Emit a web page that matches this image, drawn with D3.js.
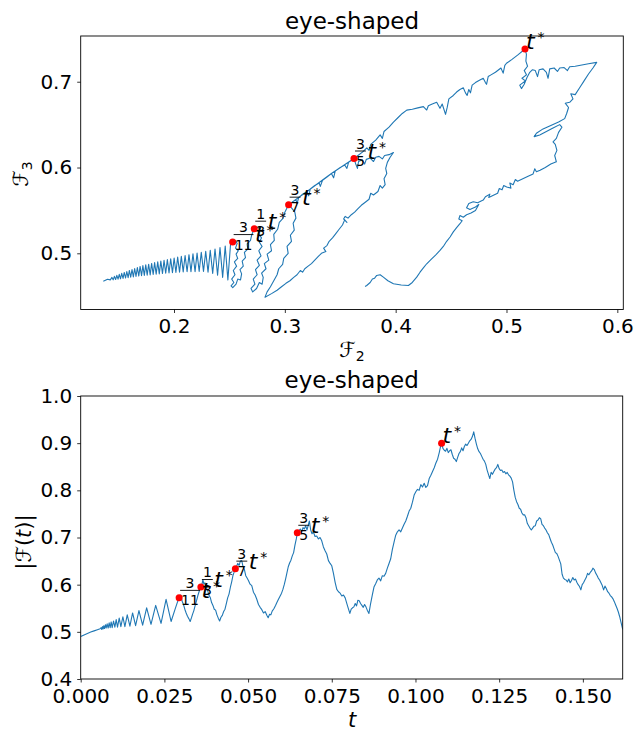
<!DOCTYPE html>
<html><head><meta charset="utf-8">
<script src="https://cdn.jsdelivr.net/npm/d3@7"></script>
<style>body{margin:0;background:#fff} text{font-family:"DejaVu Sans",sans-serif;fill:#000}</style>
</head><body><svg id="c" width="636" height="733"></svg>
<script>
// ---- data: trajectory (F2, F3) in the plane ----
const trajectory = [
[0.1362,0.4675],[0.1400,0.4697],[0.1425,0.4690],[0.1440,0.4719],[0.1451,0.4691],[0.1462,0.4731],[0.1473,0.4695],[0.1484,0.4743],[0.1495,0.4699],[0.1506,0.4755],[0.1517,0.4703],[0.1528,0.4766],[0.1540,0.4708],[0.1551,0.4777],[0.1563,0.4712],[0.1574,0.4788],[0.1586,0.4716],[0.1597,0.4800],[0.1609,0.4721],[0.1621,0.4811],[0.1633,0.4725],[0.1645,0.4823],[0.1657,0.4730],[0.1669,0.4835],[0.1682,0.4735],[0.1694,0.4847],[0.1707,0.4739],[0.1719,0.4856],[0.1732,0.4742],[0.1745,0.4865],[0.1758,0.4746],[0.1771,0.4873],[0.1785,0.4749],[0.1798,0.4882],[0.1812,0.4753],[0.1825,0.4891],[0.1839,0.4757],[0.1853,0.4900],[0.1867,0.4760],[0.1881,0.4909],[0.1896,0.4764],[0.1910,0.4918],[0.1925,0.4768],[0.1940,0.4927],[0.1955,0.4771],[0.1970,0.4936],[0.1986,0.4774],[0.2001,0.4945],[0.2017,0.4777],[0.2033,0.4955],[0.2050,0.4780],[0.2066,0.4965],[0.2083,0.4783],[0.2100,0.4975],[0.2118,0.4785],[0.2135,0.4984],[0.2153,0.4786],[0.2171,0.4993],[0.2190,0.4787],[0.2208,0.5002],[0.2227,0.4788],[0.2246,0.5012],[0.2266,0.4789],[0.2286,0.5022],[0.2307,0.4780],[0.2327,0.5035],[0.2349,0.4765],[0.2370,0.5051],[0.2393,0.4745],[0.2415,0.5068],[0.2439,0.4720],[0.2462,0.5086],[0.2486,0.4690],[0.2510,0.5104],[0.2529,0.5131],
[0.2550,0.5150],[0.2570,0.5115],[0.2555,0.5060],[0.2580,0.5030],[0.2560,0.4990],[0.2575,0.4940],[0.2545,0.4900],[0.2565,0.4850],[0.2535,0.4800],[0.2550,0.4750],[0.2520,0.4700],[0.2540,0.4660],[0.2515,0.4620],[0.2530,0.4600],[0.2560,0.4640],[0.2575,0.4700],[0.2600,0.4690],[0.2610,0.4760],[0.2595,0.4810],[0.2625,0.4850],[0.2615,0.4910],[0.2645,0.4950],[0.2635,0.5010],[0.2665,0.5050],[0.2660,0.5110],[0.2690,0.5150],[0.2700,0.5210],[0.2724,0.5287],
[0.2750,0.5305],[0.2775,0.5290],[0.2760,0.5230],[0.2790,0.5180],[0.2770,0.5130],[0.2795,0.5080],[0.2765,0.5030],[0.2785,0.4970],[0.2750,0.4920],[0.2770,0.4860],[0.2735,0.4810],[0.2750,0.4750],[0.2715,0.4700],[0.2730,0.4640],[0.2695,0.4590],[0.2710,0.4550],[0.2745,0.4590],[0.2770,0.4660],[0.2795,0.4640],[0.2805,0.4720],[0.2790,0.4770],[0.2830,0.4820],[0.2815,0.4880],[0.2855,0.4920],[0.2840,0.4990],[0.2880,0.5030],[0.2870,0.5100],[0.2905,0.5150],[0.2900,0.5220],[0.2935,0.5280],[0.2950,0.5360],[0.2985,0.5410],[0.3000,0.5480],[0.3034,0.5567],
[0.3070,0.5600],[0.3100,0.5625],[0.3110,0.5580],[0.3125,0.5650],[0.3160,0.5690],[0.3200,0.5720],[0.3215,0.5670],[0.3230,0.5750],[0.3270,0.5790],[0.3310,0.5820],[0.3320,0.5780],[0.3340,0.5850],[0.3380,0.5890],[0.3420,0.5930],[0.3440,0.5880],[0.3455,0.5960],[0.3500,0.6000],[0.3540,0.6030],[0.3560,0.5990],[0.3575,0.6060],[0.3624,0.6105],
[0.3640,0.6040],[0.3655,0.5990],[0.3665,0.6070],[0.3700,0.6090],[0.3720,0.6040],[0.3735,0.6095],[0.3770,0.6110],[0.3800,0.6070],[0.3820,0.6120],[0.3850,0.6130],[0.3880,0.6100],[0.3900,0.6140],[0.3940,0.6150],[0.3980,0.6175],
[0.3950,0.6120],[0.3925,0.6060],[0.3910,0.5990],[0.3920,0.5930],[0.3895,0.5870],[0.3905,0.5800],[0.3880,0.5760],[0.3860,0.5790],[0.3840,0.5720],[0.3800,0.5680],[0.3775,0.5700],[0.3760,0.5630],[0.3720,0.5590],[0.3690,0.5560],[0.3660,0.5520],[0.3630,0.5480],[0.3600,0.5450],[0.3570,0.5410],[0.3545,0.5430],[0.3530,0.5400],[0.3560,0.5360],[0.3540,0.5390],[0.3520,0.5330],[0.3490,0.5280],[0.3460,0.5230],[0.3430,0.5180],[0.3400,0.5140],[0.3380,0.5090],[0.3350,0.5060],[0.3370,0.5020],[0.3330,0.5000],[0.3300,0.4960],[0.3270,0.4920],[0.3240,0.4880],[0.3210,0.4850],[0.3180,0.4820],[0.3160,0.4780],[0.3140,0.4800],[0.3110,0.4750],[0.3080,0.4720],[0.3046,0.4680],[0.3010,0.4650],[0.2970,0.4610],[0.2930,0.4570],[0.2880,0.4530],[0.2821,0.4489],
[0.2840,0.4550],[0.2870,0.4610],[0.2900,0.4680],[0.2930,0.4750],[0.2945,0.4820],[0.2980,0.4870],[0.2990,0.4940],[0.3030,0.5000],[0.3020,0.5080],[0.3060,0.5140],[0.3050,0.5210],[0.3085,0.5270],[0.3075,0.5350],[0.3100,0.5410],[0.3090,0.5480],[0.3060,0.5530],[0.3034,0.5567],
[0.3200,0.5720],[0.3420,0.5930],[0.3624,0.6105],
[0.3660,0.6140],[0.3700,0.6180],[0.3740,0.6230],[0.3760,0.6200],[0.3775,0.6270],[0.3820,0.6320],[0.3860,0.6380],[0.3880,0.6340],[0.3895,0.6420],[0.3940,0.6470],[0.3980,0.6530],[0.4020,0.6580],[0.4060,0.6630],[0.4100,0.6669],
[0.4150,0.6680],[0.4200,0.6695],[0.4250,0.6710],[0.4280,0.6670],[0.4295,0.6720],[0.4330,0.6740],[0.4370,0.6760],[0.4400,0.6690],[0.4420,0.6740],[0.4450,0.6620],[0.4465,0.6700],[0.4480,0.6800],[0.4520,0.6840],[0.4550,0.6880],[0.4580,0.6910],[0.4610,0.6930],[0.4630,0.6870],[0.4645,0.6840],[0.4660,0.6910],[0.4675,0.6870],[0.4690,0.6960],[0.4720,0.6990],[0.4760,0.7020],[0.4790,0.7040],[0.4810,0.6990],[0.4820,0.6970],[0.4835,0.7060],[0.4860,0.7080],[0.4900,0.7110],[0.4950,0.7160],[0.4970,0.7100],[0.4985,0.7190],[0.5000,0.7215],[0.5050,0.7260],[0.5100,0.7310],[0.5167,0.7382],
[0.5180,0.7320],[0.5175,0.7240],[0.5190,0.7180],[0.5160,0.7130],[0.5180,0.7080],[0.5140,0.7040],[0.5170,0.7010],[0.5120,0.6960],[0.5135,0.6920],[0.5160,0.6970],[0.5185,0.7050],[0.5210,0.7110],[0.5235,0.7140],
[0.5260,0.7130],[0.5280,0.7060],[0.5295,0.7140],[0.5330,0.7150],[0.5360,0.7110],[0.5375,0.7040],[0.5390,0.7150],[0.5430,0.7160],[0.5460,0.7120],[0.5480,0.7160],[0.5520,0.7165],[0.5550,0.7130],[0.5570,0.7175],[0.5620,0.7180],[0.5680,0.7195],[0.5740,0.7210],[0.5814,0.7226],
[0.5780,0.7160],[0.5740,0.7090],[0.5700,0.7010],[0.5660,0.6930],[0.5620,0.6850],[0.5580,0.6860],[0.5600,0.6800],[0.5570,0.6760],[0.5530,0.6750],[0.5560,0.6700],[0.5543,0.6630],[0.5525,0.6570],
[0.5470,0.6530],[0.5400,0.6490],[0.5330,0.6450],[0.5270,0.6400],[0.5250,0.6360],[0.5300,0.6380],[0.5360,0.6420],[0.5420,0.6460],[0.5480,0.6500],[0.5500,0.6470],[0.5470,0.6410],[0.5450,0.6340],[0.5420,0.6300],[0.5440,0.6270],[0.5455,0.6200],[0.5435,0.6140],[0.5450,0.6066],
[0.5400,0.6040],[0.5350,0.6000],[0.5303,0.5968],[0.5270,0.5950],[0.5255,0.5985],[0.5240,0.5925],[0.5200,0.5900],[0.5152,0.5871],[0.5100,0.5840],[0.5080,0.5860],[0.5060,0.5800],[0.5030,0.5820],[0.5040,0.5760],[0.5002,0.5774],[0.4975,0.5790],[0.4960,0.5740],[0.4935,0.5755],[0.4920,0.5700],[0.4882,0.5676],[0.4840,0.5650],[0.4850,0.5690],[0.4810,0.5660],[0.4790,0.5620],[0.4740,0.5590],[0.4700,0.5600],[0.4660,0.5580],[0.4640,0.5530],[0.4670,0.5510],[0.4720,0.5540],[0.4750,0.5570],[0.4720,0.5500],[0.4680,0.5470],[0.4640,0.5450],[0.4610,0.5420],[0.4580,0.5440],[0.4570,0.5400],[0.4600,0.5380],[0.4580,0.5345],[0.4550,0.5300],[0.4520,0.5250],[0.4491,0.5190],[0.4460,0.5140],[0.4430,0.5080],[0.4400,0.5034],[0.4360,0.4980],[0.4320,0.4930],[0.4280,0.4878],[0.4250,0.4830],[0.4220,0.4780],[0.4190,0.4722],[0.4150,0.4660],[0.4115,0.4625],
[0.4050,0.4630],[0.3980,0.4645],[0.3930,0.4680],[0.3889,0.4722],[0.3860,0.4750],[0.3829,0.4742],[0.3810,0.4710],[0.3790,0.4700],[0.3770,0.4660],[0.3739,0.4625],[0.3724,0.4613]
];

// ---- data: |F(t)| against t ----
const modulusSeries = [
[0,0.490],[0.001,0.4935],[0.002,0.4965],[0.003,0.4995],[0.004,0.502],[0.005,0.5045],[0.0058,0.5065],
[0.0061,0.509],[0.0063,0.505],[0.0065,0.511],[0.0067,0.506],[0.0069,0.513],[0.0071,0.507],[0.0074,0.515],[0.0076,0.508],[0.0079,0.517],[0.0082,0.508],[0.0085,0.519],[0.0088,0.509],[0.0091,0.521],[0.0094,0.509],[0.0098,0.523],[0.0102,0.510],[0.0106,0.526],[0.0110,0.510],[0.0115,0.529],[0.0120,0.511],[0.0126,0.532],[0.0132,0.511],[0.0139,0.536],[0.0147,0.512],[0.0155,0.540],[0.0164,0.513],[0.0174,0.545],[0.0185,0.514],[0.0197,0.551],[0.0210,0.516],[0.0224,0.556],[0.0240,0.518],[0.0255,0.569],[0.0270,0.522],
[0.0282,0.548],[0.0290,0.565],[0.0294,0.572],[0.0299,0.578],[0.0303,0.565],[0.0307,0.558],[0.0311,0.548],[0.0315,0.540],[0.0319,0.533],[0.0323,0.528],[0.0327,0.522],[0.0331,0.530],[0.0334,0.537],[0.0338,0.545],[0.0342,0.556],[0.0346,0.566],[0.0350,0.577],[0.0354,0.586],[0.0358,0.594],[0.0362,0.600],[0.0365,0.610],[0.0368,0.601],[0.0371,0.604],[0.0375,0.594],[0.0379,0.588],[0.0383,0.578],[0.0387,0.573],[0.0391,0.562],[0.0395,0.556],[0.0399,0.548],[0.0403,0.546],[0.0407,0.536],[0.0411,0.529],[0.0415,0.523],[0.0419,0.531],[0.0423,0.535],[0.0427,0.543],[0.0431,0.548],[0.0435,0.560],[0.0439,0.572],[0.0443,0.580],[0.0447,0.594],[0.0451,0.606],[0.0455,0.620],[0.0458,0.626],[0.0461,0.633],[0.0465,0.638],[0.0469,0.645],[0.0473,0.641],[0.0477,0.650],[0.0481,0.651],[0.0485,0.638],[0.0489,0.632],[0.0493,0.619],[0.0497,0.614],[0.0501,0.609],[0.0506,0.601],[0.0511,0.598],[0.0516,0.584],[0.0521,0.578],[0.0526,0.569],[0.0531,0.558],[0.0536,0.552],[0.0541,0.547],[0.0546,0.540],[0.0551,0.543],[0.0556,0.535],[0.0560,0.530],[0.0564,0.537],[0.0568,0.536],[0.0572,0.544],[0.0577,0.549],[0.0582,0.556],[0.0586,0.562],[0.0590,0.568],[0.0595,0.575],[0.0600,0.582],[0.0604,0.590],[0.0608,0.600],[0.0612,0.612],[0.0616,0.625],[0.0620,0.638],[0.0624,0.646],[0.0628,0.652],[0.0632,0.661],[0.0636,0.668],[0.0640,0.684],[0.0644,0.697],[0.0647,0.710],[0.0652,0.715],[0.0656,0.718],[0.0660,0.712],[0.0664,0.721],[0.0668,0.718],[0.0672,0.725],[0.0676,0.716],[0.0680,0.727],[0.0683,0.735],[0.0687,0.716],[0.0691,0.708],[0.0695,0.712],[0.0700,0.702],[0.0705,0.703],[0.0710,0.697],[0.0715,0.700],[0.0720,0.693],[0.0725,0.680],[0.0730,0.672],[0.0735,0.665],[0.0740,0.651],[0.0745,0.645],[0.0750,0.640],[0.0755,0.624],[0.0760,0.605],[0.0765,0.590],[0.0770,0.585],[0.0775,0.582],[0.0780,0.576],[0.0785,0.578],[0.0790,0.572],[0.0795,0.560],[0.0800,0.548],[0.0804,0.539],[0.0808,0.548],[0.0812,0.551],[0.0816,0.553],[0.0820,0.560],[0.0824,0.555],[0.0828,0.567],[0.0832,0.566],[0.0836,0.560],[0.0840,0.556],[0.0844,0.552],[0.0848,0.558],[0.0852,0.553],[0.0856,0.546],[0.0861,0.539],[0.0866,0.560],[0.0871,0.578],[0.0876,0.595],[0.0881,0.602],[0.0886,0.610],[0.0891,0.614],[0.0896,0.608],[0.0901,0.619],[0.0906,0.618],[0.0911,0.624],[0.0916,0.635],[0.0921,0.645],[0.0926,0.655],[0.0931,0.675],[0.0936,0.690],[0.0941,0.705],[0.0946,0.712],[0.0951,0.716],[0.0956,0.712],[0.0961,0.720],[0.0966,0.728],[0.0971,0.735],[0.0976,0.745],[0.0981,0.756],[0.0986,0.762],[0.0991,0.775],[0.0996,0.790],[0.1001,0.797],[0.1006,0.802],[0.1011,0.800],[0.1016,0.812],[0.1021,0.807],[0.1026,0.815],[0.1031,0.806],[0.1036,0.810],[0.1041,0.825],[0.1046,0.832],[0.1051,0.840],[0.1056,0.848],[0.1061,0.858],[0.1066,0.866],[0.1071,0.880],[0.1075,0.893],[0.1078,0.900],[0.1082,0.889],[0.1086,0.885],[0.1090,0.883],[0.1094,0.889],[0.1098,0.880],[0.1102,0.884],[0.1106,0.886],[0.1110,0.876],[0.1114,0.868],[0.1118,0.866],[0.1122,0.861],[0.1126,0.870],[0.1130,0.878],[0.1134,0.882],[0.1138,0.890],[0.1142,0.884],[0.1146,0.893],[0.1150,0.898],[0.1154,0.895],[0.1158,0.900],[0.1162,0.905],[0.1166,0.908],[0.1170,0.914],[0.1174,0.924],[0.1178,0.910],[0.1182,0.898],[0.1186,0.888],[0.1190,0.882],[0.1194,0.878],[0.1198,0.872],[0.1202,0.866],[0.1206,0.862],[0.1210,0.855],[0.1214,0.843],[0.1218,0.834],[0.1222,0.825],[0.1226,0.838],[0.1230,0.834],[0.1234,0.840],[0.1238,0.845],[0.1242,0.848],[0.1246,0.855],[0.1250,0.846],[0.1254,0.842],[0.1258,0.843],[0.1262,0.838],[0.1266,0.840],[0.1270,0.835],[0.1274,0.838],[0.1278,0.833],[0.1282,0.830],[0.1286,0.826],[0.1290,0.818],[0.1294,0.800],[0.1298,0.785],[0.1302,0.776],[0.1306,0.770],[0.1310,0.762],[0.1314,0.760],[0.1318,0.752],[0.1322,0.748],[0.1326,0.748],[0.1330,0.742],[0.1334,0.730],[0.1338,0.725],[0.1342,0.720],[0.1346,0.716],[0.1350,0.720],[0.1354,0.724],[0.1358,0.725],[0.1362,0.735],[0.1366,0.737],[0.1370,0.742],[0.1374,0.740],[0.1378,0.728],[0.1382,0.725],[0.1386,0.720],[0.1390,0.716],[0.1394,0.710],[0.1398,0.706],[0.1402,0.698],[0.1406,0.690],[0.1410,0.684],[0.1414,0.676],[0.1418,0.668],[0.1422,0.666],[0.1426,0.660],[0.1430,0.652],[0.1434,0.644],[0.1438,0.622],[0.1442,0.614],[0.1446,0.611],[0.1450,0.610],[0.1454,0.606],[0.1458,0.612],[0.1462,0.604],[0.1466,0.609],[0.1470,0.615],[0.1474,0.610],[0.1478,0.612],[0.1482,0.605],[0.1486,0.600],[0.1490,0.596],[0.1494,0.589],[0.1498,0.600],[0.1502,0.604],[0.1506,0.610],[0.1510,0.615],[0.1514,0.624],[0.1518,0.621],[0.1522,0.626],[0.1526,0.629],[0.1530,0.635],[0.1534,0.632],[0.1538,0.625],[0.1542,0.620],[0.1546,0.614],[0.1550,0.610],[0.1554,0.604],[0.1558,0.598],[0.1562,0.589],[0.1566,0.597],[0.1570,0.592],[0.1574,0.585],[0.1578,0.582],[0.1582,0.577],[0.1586,0.574],[0.1590,0.570],[0.1594,0.564],[0.1598,0.557],[0.1602,0.550],[0.1606,0.542],[0.1610,0.532],[0.1614,0.520],[0.1619,0.505]
];

// special times: label fractions, positions in both panels
const markNumerators   = [null, 3, 3, 1, 3];
const markDenominators = [null, 5, 7, 3, 11];
const markTopPoints    = [[0.5167,0.7382],[0.3624,0.6105],[0.3034,0.5567],[0.2724,0.5287],[0.2529,0.5131]];
const markBottomPoints = [[0.1078,0.900],[0.0647,0.710],[0.0462,0.634],[0.0359,0.595],[0.0294,0.572]];

const topXTicks = [0.2,0.3,0.4,0.5,0.6];
const topYTicks = [0.5,0.6,0.7];
const bottomXTicks = [0,0.025,0.05,0.075,0.1,0.125,0.15];
const bottomYTicks = [0.4,0.5,0.6,0.7,0.8,0.9,1.0];
const panelTitle = "eye-shaped";

// ---- drawing ----
const svg = d3.select("#c");
const BLUE = "#1f77b4";
const TICKFS = 20;

function frameAxes(box, xs, ys, xt, yt, xfmt, yfmt){
  const g = svg.append("g");
  const ax = d3.axisBottom(xs).tickValues(xt).tickFormat(xfmt).tickSize(3.5).tickPadding(6).tickSizeOuter(0);
  const ay = d3.axisLeft(ys).tickValues(yt).tickFormat(yfmt).tickSize(3.5).tickPadding(5).tickSizeOuter(0);
  const gx = g.append("g").attr("transform",`translate(0,${box.b})`).call(ax);
  const gy = g.append("g").attr("transform",`translate(${box.l},0)`).call(ay);
  [gx,gy].forEach(a=>{
    a.select(".domain").remove();
    a.selectAll("text").attr("font-size",TICKFS).attr("font-family","DejaVu Sans").attr("fill","#000");
    a.selectAll("line").attr("stroke","#000").attr("stroke-width",0.8);
  });
  return g;
}
function frameRect(box){
  svg.append("rect").attr("x",box.l).attr("y",box.t).attr("width",box.r-box.l).attr("height",box.b-box.t)
    .attr("fill","none").attr("stroke","#000").attr("stroke-width",0.9);
}
function mathLabel(x, y, num, den){
  const g = svg.append("g");
  let cx = x + 1;
  if (num !== null){
    const fs = 14;
    const w = Math.max(String(num).length, String(den).length)*0.636*fs + 2;
    g.append("text").attr("x",x+1+w/2).attr("y",y-10).attr("text-anchor","middle").attr("font-size",fs).text(num);
    g.append("line").attr("x1",x+1).attr("x2",x+1+w).attr("y1",y-7.5).attr("y2",y-7.5).attr("stroke","#000").attr("stroke-width",0.9);
    g.append("text").attr("x",x+1+w/2).attr("y",y+7.5).attr("text-anchor","middle").attr("font-size",fs).text(den);
    cx = x + w + 2.5;
  }
  g.append("text").attr("x",cx).attr("y",y).attr("font-size",22).attr("font-style","italic").text("t");
  g.append("text").attr("x",cx+11.5).attr("y",y-7).attr("font-size",14).text("*");
}

// top panel
const boxT = {l:80.7, r:623.3, t:36, b:309.5};
const xT = d3.scaleLinear().domain([0.1158,0.6054]).range([boxT.l,boxT.r]);
const yT = d3.scaleLinear().domain([0.4345,0.7533]).range([boxT.b,boxT.t]);
svg.append("defs").append("clipPath").attr("id","clipT").append("rect")
  .attr("x",boxT.l).attr("y",boxT.t).attr("width",boxT.r-boxT.l).attr("height",boxT.b-boxT.t);
frameAxes(boxT, xT, yT, topXTicks, topYTicks, d3.format(".1f"), d3.format(".1f"));
svg.append("path").datum(trajectory).attr("clip-path","url(#clipT)")
  .attr("d", d3.line().x(d=>xT(d[0])).y(d=>yT(d[1])))
  .attr("fill","none").attr("stroke",BLUE).attr("stroke-width",1.1).attr("stroke-linejoin","round");
svg.selectAll(".dotT").data(markTopPoints).enter().append("circle")
  .attr("cx",d=>xT(d[0])).attr("cy",d=>yT(d[1])).attr("r",3.5).attr("fill","red");
frameRect(boxT);
markTopPoints.forEach((p,i)=>mathLabel(xT(p[0]), yT(p[1]), markNumerators[i], markDenominators[i]));
svg.append("text").attr("x",(boxT.l+boxT.r)/2).attr("y",29).attr("text-anchor","middle").attr("font-size",23).text(panelTitle);
const xl = svg.append("text").attr("x",352).attr("y",357).attr("text-anchor","middle").attr("font-size",21);
xl.append("tspan").text("ℱ"); xl.append("tspan").attr("font-size",14).attr("dy",4).text("2");
const yl = svg.append("text").attr("transform","translate(28,174) rotate(-90)").attr("text-anchor","middle").attr("font-size",21);
yl.append("tspan").text("ℱ"); yl.append("tspan").attr("font-size",14).attr("dy",4).text("3");

// bottom panel
const boxB = {l:80.7, r:622.7, t:396, b:679};
const xB = d3.scaleLinear().domain([0,0.1619]).range([boxB.l,boxB.r]);
const yB = d3.scaleLinear().domain([0.4,1.0]).range([boxB.b,boxB.t]);
svg.append("defs").append("clipPath").attr("id","clipB").append("rect")
  .attr("x",boxB.l).attr("y",boxB.t).attr("width",boxB.r-boxB.l).attr("height",boxB.b-boxB.t);
frameAxes(boxB, xB, yB, bottomXTicks, bottomYTicks, d3.format(".3f"), d3.format(".1f"));
svg.append("path").datum(modulusSeries).attr("clip-path","url(#clipB)")
  .attr("d", d3.line().x(d=>xB(d[0])).y(d=>yB(d[1])))
  .attr("fill","none").attr("stroke",BLUE).attr("stroke-width",1.1).attr("stroke-linejoin","round");
svg.selectAll(".dotB").data(markBottomPoints).enter().append("circle")
  .attr("cx",d=>xB(d[0])).attr("cy",d=>yB(d[1])).attr("r",3.5).attr("fill","red");
frameRect(boxB);
markBottomPoints.forEach((p,i)=>mathLabel(xB(p[0]), yB(p[1]), markNumerators[i], markDenominators[i]));
svg.append("text").attr("x",(boxB.l+boxB.r)/2).attr("y",388).attr("text-anchor","middle").attr("font-size",23).text(panelTitle);
svg.append("text").attr("x",352).attr("y",727).attr("text-anchor","middle").attr("font-size",21).attr("font-style","italic").text("t");
const yl2 = svg.append("text").attr("transform","translate(31,542) rotate(-90)").attr("text-anchor","middle").attr("font-size",21);
yl2.append("tspan").text("|ℱ(");
yl2.append("tspan").attr("font-style","italic").text("t");
yl2.append("tspan").text(")|");
</script></body></html>
